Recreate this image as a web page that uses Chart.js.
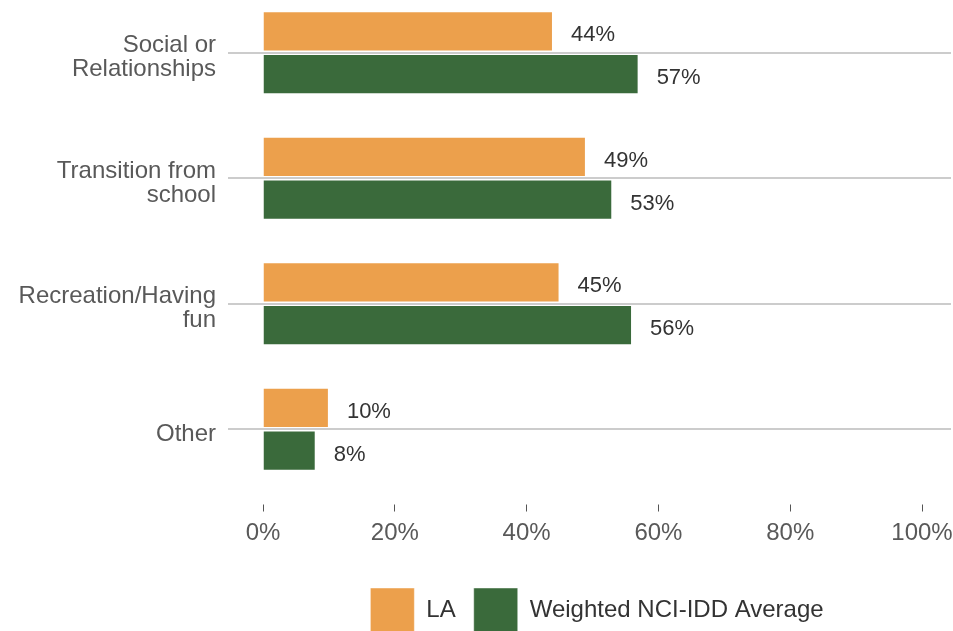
<!DOCTYPE html>
<html>
<head>
<meta charset="utf-8">
<script src="https://cdn.jsdelivr.net/npm/chart.js@4.4.1/dist/chart.umd.min.js"></script>
<style>
  html, body { margin: 0; padding: 0; background: #fff; overflow: hidden; }
  #wrap { position: absolute; left: 0; top: -10px; width: 953px; height: 652px; }
</style>
</head>
<body>
<div id="wrap"><canvas id="chart" width="953" height="652"></canvas></div>
<script>
const categories = [
    ['Social or', 'Relationships'],
    ['Transition from', 'school'],
    ['Recreation/Having', 'fun'],
    ['Other']
];
const laValues = [44, 49, 45, 10];
const nciValues = [57, 53, 56, 8];
const xTickValues = [0, 20, 40, 60, 80, 100];

const FONT = "'Liberation Sans', Arial, sans-serif";

// value labels to the right of each bar
const barLabels = {
    id: 'barLabels',
    afterDatasetsDraw(chart) {
        const ctx = chart.ctx;
        ctx.save();
        ctx.font = '22px ' + FONT;
        ctx.fillStyle = '#333';
        ctx.textAlign = 'left';
        ctx.textBaseline = 'middle';
        chart.data.datasets.forEach((ds, i) => {
            chart.getDatasetMeta(i).data.forEach((bar, j) => {
                ctx.fillText(ds.data[j] + '%', bar.x + 18, bar.y + 4);
            });
        });
        ctx.restore();
    }
};

// legend sits a little left of the plot-area centre in the original
const legendNudge = {
    id: 'legendNudge',
    afterLayout(chart) {
        chart.legend.left -= 10;
        chart.legend.right -= 10;
    }
};

new Chart(document.getElementById('chart'), {
    type: 'bar',
    data: {
        labels: categories,
        datasets: [{
            label: 'LA',
            data: laValues,
            backgroundColor: '#eca04c',
            borderColor: 'rgba(255,255,255,0.45)',
            borderWidth: 1,
            categoryPercentage: 0.68,
            barPercentage: 0.94
        }, {
            label: 'Weighted NCI-IDD Average',
            data: nciValues,
            backgroundColor: '#3a6a3b',
            borderColor: 'rgba(255,255,255,0.45)',
            borderWidth: 1,
            categoryPercentage: 0.68,
            barPercentage: 0.94
        }]
    },
    options: {
        indexAxis: 'y',
        responsive: false,
        animation: false,
        layout: { padding: { left: 0, right: 2, top: 0, bottom: 0 } },
        scales: {
            x: {
                min: 0,
                max: 104.4,
                afterBuildTicks(scale) {
                    scale.ticks = xTickValues.map(v => ({ value: v }));
                },
                afterFit(scale) {
                    scale.height = 78;
                    scale.paddingLeft = 0;
                    scale.paddingRight = 0;
                },
                border: { display: false },
                grid: {
                    drawOnChartArea: false,
                    drawTicks: true,
                    tickLength: 19.5,
                    tickColor: '#555',
                    tickWidth: 1,
                    tickBorderDash: [0, 12.5, 7, 100]
                },
                ticks: {
                    padding: 7,
                    color: '#595959',
                    font: { family: FONT, size: 24 },
                    maxRotation: 0,
                    callback: v => v + '%'
                }
            },
            y: {
                afterFit(scale) {
                    scale.width = 263;
                    scale.paddingTop = 0;
                    scale.paddingBottom = 0;
                },
                border: { display: false },
                grid: {
                    offset: false,
                    color: '#cccccc',
                    lineWidth: 2,
                    tickLength: 35,
                    tickColor: '#cccccc'
                },
                ticks: {
                    padding: 12,
                    labelOffset: 5,
                    color: '#595959',
                    font: { family: FONT, size: 24, lineHeight: 1.0 }
                }
            }
        },
        plugins: {
            legend: {
                position: 'bottom',
                fullSize: false,
                labels: {
                    boxWidth: 44,
                    boxHeight: 44,
                    padding: 18,
                    color: '#333',
                    font: { family: FONT, size: 24 }
                }
            },
            tooltip: { enabled: false }
        }
    },
    plugins: [barLabels, legendNudge]
});
</script>
</body>
</html>
